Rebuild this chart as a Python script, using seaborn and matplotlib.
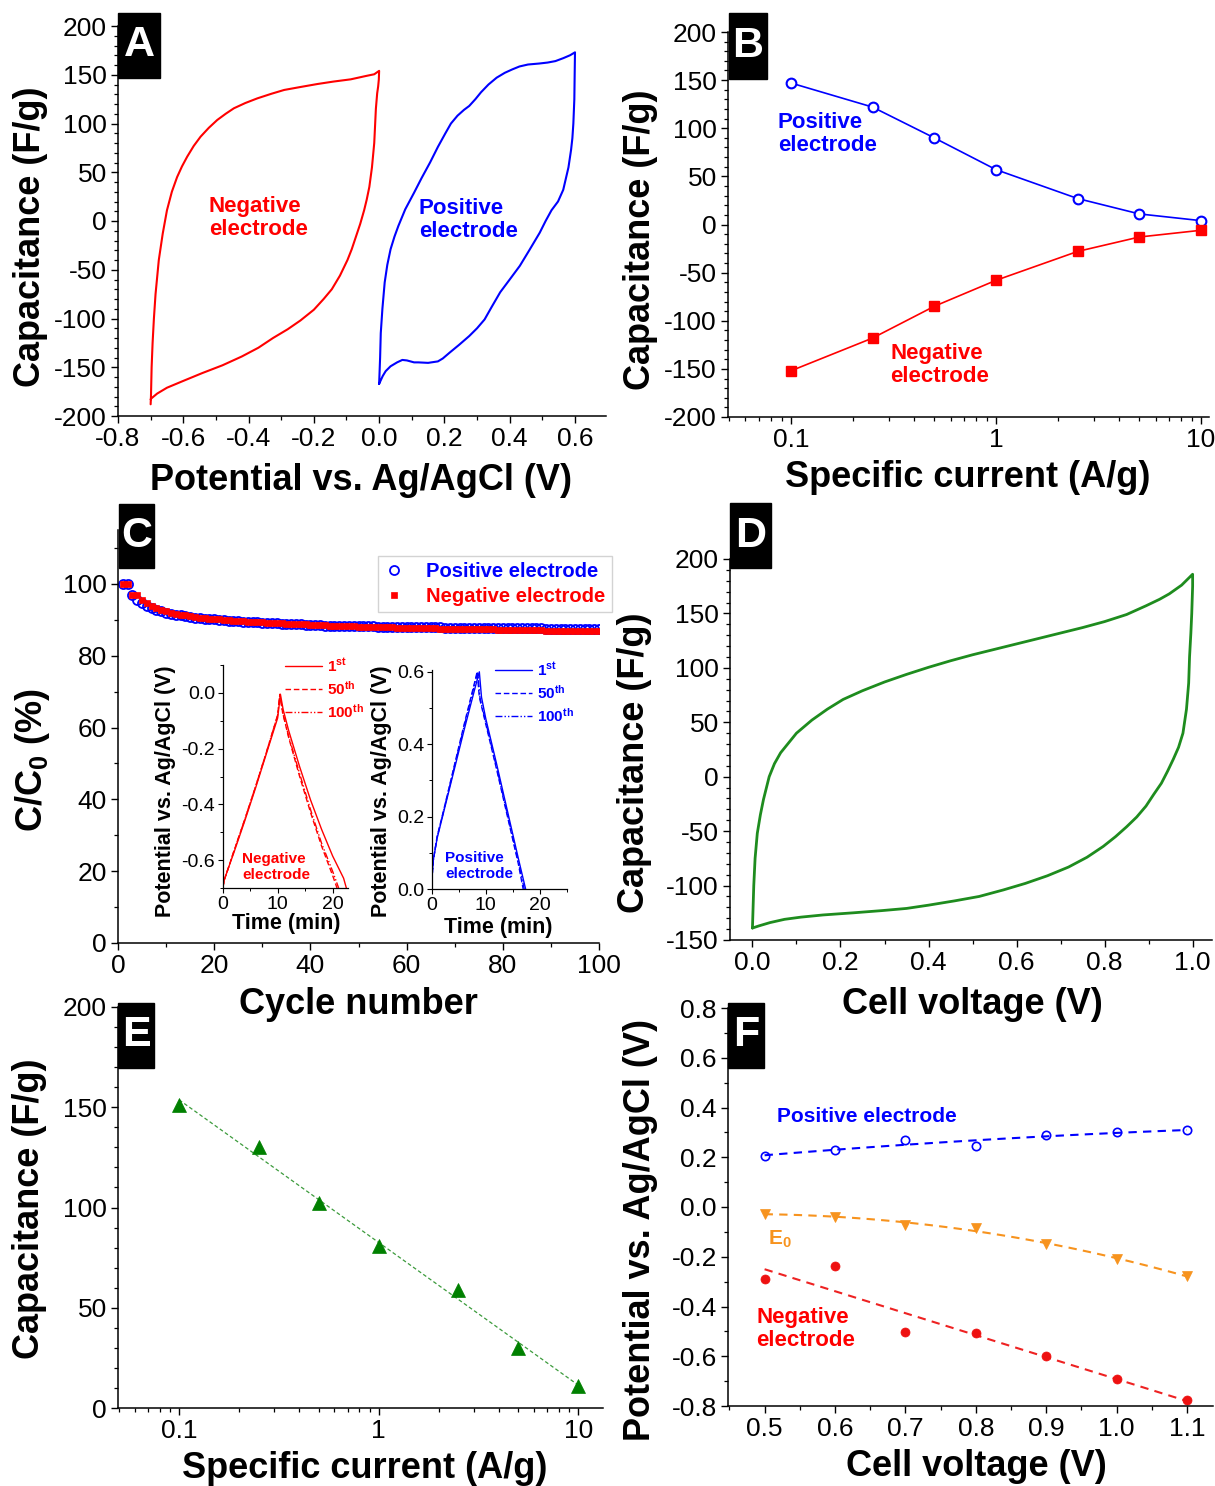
import numpy as np
import matplotlib
matplotlib.use("Agg")
import matplotlib.pyplot as plt
import seaborn as sns
from matplotlib.ticker import MultipleLocator, LogLocator, NullFormatter, FormatStrFormatter, FixedLocator
from matplotlib.patches import Rectangle

W, H = 1215, 1486

# ---------------- data ----------------
# A: CV of the single electrodes (potential V, capacitance F/g), loop order
cv_neg_v = [-0.700, -0.699, -0.697, -0.694, -0.690, -0.685, -0.675, -0.663, -0.650, -0.635, -0.619, -0.604,
            -0.588, -0.568, -0.547, -0.522, -0.496, -0.470, -0.445, -0.410, -0.373, -0.330, -0.291, -0.240,
            -0.189, -0.140, -0.087, -0.041, -0.015, 0.000,
            -0.001, -0.003, -0.006, -0.010, -0.015, -0.022, -0.030, -0.038, -0.046, -0.058, -0.071, -0.084,
            -0.097, -0.120, -0.145, -0.170, -0.200, -0.241, -0.280, -0.325, -0.370, -0.421, -0.480, -0.542,
            -0.600, -0.650, -0.680, -0.698, -0.700]
cv_neg_c = [-188, -180, -150, -125, -100, -75, -40, -13, 11, 30, 45, 56,
            66, 77, 86.5, 95.5, 103.6, 110, 115.6, 121, 125.8, 130.5, 134.4, 137.5,
            140.5, 143, 145.3, 148.7, 150.5, 154,
            145, 138, 131, 115, 80, 55, 35, 22, 11, -3, -16, -29,
            -40, -56, -70, -80, -91, -102, -111, -120, -130, -139, -148, -156,
            -164, -171, -177, -182, -183]
cv_pos_v = [0.000, 0.003, 0.005, 0.010, 0.017, 0.025, 0.035, 0.047, 0.059, 0.080, 0.107, 0.130, 0.156,
            0.180, 0.203, 0.220, 0.240, 0.260, 0.276, 0.295, 0.312, 0.335, 0.360, 0.385, 0.408, 0.430,
            0.456, 0.490, 0.516, 0.540, 0.564, 0.585, 0.600, 0.599, 0.598, 0.595, 0.592, 0.588, 0.580,
            0.564, 0.548, 0.528, 0.510, 0.492, 0.460, 0.431, 0.400, 0.371, 0.345, 0.323, 0.300, 0.276,
            0.245, 0.216, 0.195, 0.180, 0.150, 0.120, 0.107, 0.085, 0.071, 0.055, 0.035, 0.020, 0.011, 0.000]
cv_pos_c = [-167, -140, -115, -90, -63, -45, -29, -16, -5, 12, 29, 44, 60,
            76, 90, 100, 108, 114, 118, 125, 132, 140, 147, 152, 155.5, 158.5,
            160.5, 161.5, 162.5, 164, 167, 170, 173, 150, 125, 100, 85, 73, 55,
            32, 20, 11, 0, -12, -30, -46, -60, -73, -88, -101, -110, -118,
            -127, -135, -141, -144, -145.5, -145, -145, -143, -142.5, -145, -149, -154, -159, -167]

# B: rate capability of the electrodes
current = [0.1, 0.25, 0.5, 1, 2.5, 5, 10]
cap_pos = [147, 122, 90, 57, 27, 11, 4]
cap_neg = [-152, -118, -85, -58, -28, -13, -6]

# C: capacitance retention over 100 cycles (%)
cycles = np.arange(1, 101)
ret_pos = [100.0, 100.0, 96.8, 95.6, 94.6, 93.9, 93.3, 92.8, 92.4, 92.0,
           91.7, 91.4, 91.2, 91.0, 90.8, 90.6, 90.5, 90.3, 90.2, 90.1,
           90.0, 89.9, 89.8, 89.7, 89.6, 89.5, 89.4, 89.3, 89.3, 89.2,
           89.1, 89.0, 89.0, 88.9, 88.8, 88.8, 88.7, 88.7, 88.6, 88.6,
           88.5, 88.5, 88.4, 88.4, 88.3, 88.3, 88.3, 88.2, 88.2, 88.2,
           88.2, 88.2, 88.2, 88.1, 88.1, 88.1, 88.1, 88.0, 88.0, 88.0,
           88.0, 88.0, 87.9, 87.9, 87.9, 87.9, 87.9, 87.8, 87.8, 87.8,
           87.8, 87.8, 87.8, 87.7, 87.7, 87.7, 87.7, 87.7, 87.7, 87.7,
           87.6, 87.6, 87.6, 87.6, 87.6, 87.6, 87.6, 87.6, 87.5, 87.5,
           87.5, 87.5, 87.5, 87.5, 87.5, 87.5, 87.5, 87.5, 87.5, 87.5]
ret_neg = [100.0, 100.0, 97.0, 96.8, 95.5, 94.6, 93.9, 93.3, 92.8, 92.4,
           92.0, 91.7, 91.4, 91.2, 91.0, 90.8, 90.6, 90.5, 90.3, 90.2,
           90.1, 90.0, 89.9, 89.8, 89.7, 89.6, 89.5, 89.4, 89.4, 89.3,
           89.2, 89.1, 89.1, 89.0, 88.9, 88.9, 88.8, 88.7, 88.7, 88.6,
           88.6, 88.5, 88.5, 88.4, 88.4, 88.3, 88.3, 88.2, 88.2, 88.1,
           88.1, 88.1, 88.0, 88.0, 87.9, 87.9, 87.9, 87.8, 87.8, 87.8,
           87.7, 87.7, 87.7, 87.6, 87.6, 87.6, 87.5, 87.5, 87.5, 87.5,
           87.4, 87.4, 87.4, 87.4, 87.3, 87.3, 87.3, 87.3, 87.2, 87.2,
           87.2, 87.2, 87.2, 87.1, 87.1, 87.1, 87.1, 87.1, 87.0, 87.0,
           87.0, 87.0, 87.0, 87.0, 86.9, 86.9, 86.9, 86.9, 86.9, 86.9]

# C insets: galvanostatic charge/discharge (time min, potential V)
neg_t1 = [0, 0.3, 1, 2, 4, 6, 8, 10, 10.5, 11.0, 12, 14, 16, 18, 20, 22, 22.5]
neg_v1 = [-0.70, -0.67, -0.63, -0.575, -0.46, -0.34, -0.215, -0.09, -0.005, -0.06, -0.135, -0.265,
          -0.385, -0.49, -0.585, -0.665, -0.70]
neg_t50 = [0, 0.3, 1, 2, 4, 6, 8, 10, 10.4, 10.9, 12, 14, 16, 18, 20, 20.8]
neg_v50 = [-0.70, -0.67, -0.63, -0.57, -0.455, -0.335, -0.21, -0.08, -0.005, -0.07, -0.16, -0.30,
           -0.43, -0.55, -0.655, -0.70]
neg_t100 = [0, 0.3, 1, 2, 4, 6, 8, 10, 10.4, 10.9, 12, 14, 16, 18, 20, 21.1]
neg_v100 = [-0.70, -0.67, -0.63, -0.57, -0.455, -0.335, -0.21, -0.08, -0.005, -0.07, -0.155, -0.29,
            -0.42, -0.54, -0.64, -0.70]
pos_t1 = [0, 0.3, 1, 2, 4, 6, 8, 8.8, 9.2, 10, 12, 14, 16, 17.35]
pos_v1 = [0.02, 0.08, 0.14, 0.20, 0.32, 0.44, 0.555, 0.60, 0.53, 0.47, 0.345, 0.215, 0.085, 0.0]
pos_t50 = [0, 0.3, 1, 2, 4, 6, 8, 8.4, 8.8, 10, 12, 14, 16, 16.9]
pos_v50 = [0.02, 0.08, 0.145, 0.205, 0.33, 0.455, 0.575, 0.60, 0.53, 0.455, 0.33, 0.20, 0.07, 0.0]
pos_t100 = [0, 0.3, 1, 2, 4, 6, 8, 8.5, 8.9, 10, 12, 14, 16, 17.1]
pos_v100 = [0.02, 0.08, 0.143, 0.203, 0.326, 0.45, 0.57, 0.60, 0.53, 0.46, 0.335, 0.205, 0.075, 0.0]
cycle_labels = [r'1$^{\mathbf{st}}$', r'50$^{\mathbf{th}}$', r'100$^{\mathbf{th}}$']

# D: CV of the full cell
cell_v = [0.000, 0.003, 0.006, 0.011, 0.018, 0.025, 0.038, 0.050, 0.064, 0.080, 0.100, 0.135, 0.170,
          0.206, 0.250, 0.300, 0.350, 0.400, 0.450, 0.500, 0.550, 0.600, 0.650, 0.700, 0.750, 0.800,
          0.850, 0.894, 0.925, 0.947, 0.975, 1.000, 1.000, 0.998, 0.996, 0.993, 0.991, 0.986, 0.978,
          0.968, 0.956, 0.943, 0.929, 0.912, 0.894, 0.873, 0.850, 0.825, 0.797, 0.760, 0.718, 0.670,
          0.620, 0.570, 0.515, 0.460, 0.400, 0.350, 0.294, 0.230, 0.160, 0.110, 0.073, 0.040, 0.015, 0.000]
cell_c = [-139, -100, -75, -52, -35, -21, 0, 12, 22, 30, 40, 52, 62,
          71, 79, 87, 94, 100.5, 106.5, 112, 117, 122, 127, 132, 137, 142.5,
          149, 157, 163, 168, 176, 186, 175, 150, 132, 110, 86, 62, 40,
          27, 16, 5, -6, -16, -27, -37, -46, -55, -64, -74, -83, -91,
          -98, -104, -110, -114, -118, -121, -123, -125, -127, -129, -131, -134, -137, -139]

# E: cell capacitance vs specific current
cell_cap = [151, 130, 102, 81, 59, 30, 11]

# F: electrode potentials vs cell voltage
volt = [0.5, 0.6, 0.7, 0.8, 0.9, 1.0, 1.1]
pot_pos = [0.205, 0.230, 0.268, 0.246, 0.290, 0.300, 0.309]
pot_e0 = [-0.027, -0.040, -0.072, -0.083, -0.147, -0.211, -0.277]
pot_neg = [-0.288, -0.238, -0.504, -0.506, -0.600, -0.693, -0.777]

# ---------------- style ----------------
sns.set_theme(style="ticks")
plt.rcParams['font.family'] = ['Liberation Sans', 'DejaVu Sans']
plt.rcParams['mathtext.fontset'] = 'custom'
plt.rcParams['mathtext.rm'] = 'Liberation Sans'
plt.rcParams['mathtext.bf'] = 'Liberation Sans:bold'
plt.rcParams['mathtext.it'] = 'Liberation Sans:italic'
plt.rcParams['axes.unicode_minus'] = False
for k in ['text.color', 'axes.labelcolor', 'xtick.color', 'ytick.color', 'axes.edgecolor']:
    plt.rcParams[k] = 'black'

RED, BLUE, GREEN, ORANGE = '#ff0000', '#0000ff', '#1e8c1e', '#f7931e'

fig = plt.figure(figsize=(W / 100, H / 100), dpi=100)
fig.patch.set_facecolor('white')


def fx(px):
    return px / W


def fy(py):
    return 1 - py / H


def add_ax(left, top, right, bottom, small=False):
    ax = fig.add_axes([fx(left), fy(bottom), (right - left) / W, (bottom - top) / H])
    ax.set_facecolor('none')
    ax.spines[['top', 'right']].set_visible(False)
    for s in ['left', 'bottom']:
        ax.spines[s].set_linewidth(0.9 if small else 1.1)
    ax.tick_params(which='major', direction='out', length=3.5 if small else 5,
                   width=0.8 if small else 1.0, labelsize=14 if small else 19, pad=2 if small else 3)
    ax.tick_params(which='minor', direction='out', length=2 if small else 2.8, width=0.7 if small else 0.9)
    return ax


def labels(ax, xl, yl, xpos, ypos, size=26):
    ax.set_xlabel(xl, fontsize=size, fontweight='bold', va='center')
    ax.set_ylabel(yl, fontsize=size, fontweight='bold', va='center')
    ax.xaxis.set_label_coords(fx(xpos[0]), fy(xpos[1]), transform=fig.transFigure)
    ax.yaxis.set_label_coords(fx(ypos[0]), fy(ypos[1]), transform=fig.transFigure)


def tag(letter, left, top, right, bottom):
    fig.add_artist(Rectangle((fx(left), fy(bottom)), (right - left) / W, (bottom - top) / H,
                             transform=fig.transFigure, color='black', zorder=10))
    fig.text(fx((left + right) / 2), fy((top + bottom) / 2), letter, color='white', fontsize=31,
             fontweight='bold', ha='center', va='center', zorder=11)


def note(x, y, s, color, size=16):
    fig.text(fx(x), fy(y), s, color=color, fontsize=size, fontweight='bold', ha='left', va='center',
             linespacing=1.15, zorder=12)


def log_axis(ax, lo, hi):
    ax.set_xscale('log')
    ax.set_xlim(lo, hi)
    ax.xaxis.set_major_locator(FixedLocator([0.1, 1, 10]))
    ax.set_xticklabels(['0.1', '1', '10'])
    ax.xaxis.set_minor_locator(LogLocator(base=10, subs=np.arange(2, 10)))
    ax.xaxis.set_minor_formatter(NullFormatter())


def fixed_ticks(ax, axis, ticks, minor):
    ticks = [round(t, 2) for t in ticks]
    a = ax.xaxis if axis == 'x' else ax.yaxis
    a.set_major_locator(FixedLocator(ticks))
    a.set_major_formatter(FormatStrFormatter('%.1f'))
    a.set_minor_locator(MultipleLocator(minor))


# ---------------- A ----------------
axA = add_ax(118, 26, 606, 416)
sns.lineplot(x=cv_neg_v, y=cv_neg_c, sort=False, estimator=None, color=RED, lw=1.5, ax=axA)
sns.lineplot(x=cv_pos_v, y=cv_pos_c, sort=False, estimator=None, color=BLUE, lw=1.5, ax=axA)
axA.set_xlim(-0.8, 0.695)
axA.set_ylim(-200, 200)
fixed_ticks(axA, 'x', [-0.8, -0.6, -0.4, -0.2, 0.0, 0.2, 0.4, 0.6], 0.1)
axA.set_yticks(np.arange(-200, 201, 50))
axA.yaxis.set_minor_locator(MultipleLocator(10))
labels(axA, 'Potential vs. Ag/AgCl (V)', 'Capacitance (F/g)', (361, 480), (31, 237))
note(209, 218, 'Negative\nelectrode', RED)
note(419, 220, 'Positive\nelectrode', BLUE)
tag('A', 118, 13, 160, 78)

# ---------------- B ----------------
axB = add_ax(728, 32, 1209, 417)
sns.lineplot(x=current, y=cap_pos, color=BLUE, lw=1.2, marker='o', ms=7, mfc='white', mec=BLUE, mew=1.5, ax=axB)
sns.lineplot(x=current, y=cap_neg, color=RED, lw=1.2, marker='s', ms=7.5, mfc=RED, mec=RED, mew=1, ax=axB)
log_axis(axB, 0.0493, 10.94)
axB.set_ylim(-200, 200)
axB.set_yticks(np.arange(-200, 201, 50))
axB.yaxis.set_minor_locator(MultipleLocator(10))
labels(axB, 'Specific current (A/g)', 'Capacitance (F/g)', (968, 478), (641, 240))
note(778, 134, 'Positive\nelectrode', BLUE)
note(890, 365, 'Negative\nelectrode', RED)
tag('B', 729, 13, 767, 79)

# ---------------- C ----------------
axC = add_ax(118, 530, 599, 943)
sns.lineplot(x=cycles, y=ret_pos, estimator=None, ls='none', marker='o', ms=6.5, mfc='none', mec=BLUE,
             mew=1.3, label='Positive electrode', ax=axC)
sns.lineplot(x=cycles, y=ret_neg, estimator=None, ls='none', marker='s', ms=4.8, mfc=RED, mec=RED,
             mew=0.5, label='Negative electrode', ax=axC)
axC.set_xlim(0, 100)
axC.set_ylim(0, 115)
axC.set_xticks(np.arange(0, 101, 20))
axC.xaxis.set_minor_locator(MultipleLocator(10))
axC.set_yticks(np.arange(0, 101, 20))
axC.yaxis.set_minor_locator(MultipleLocator(10))
labels(axC, 'Cycle number', r'C/C$_{\mathbf{0}}$ (%)', (358, 1005), (32, 760))
leg = axC.legend(loc='upper left', bbox_to_anchor=((378 - 118) / 481, (943 - 556) / 413), borderaxespad=0,
                 prop={'weight': 'bold', 'size': 14.5}, frameon=True, fancybox=False,
                 edgecolor='#c8c8c8', handlelength=1.0, handletextpad=1.1, labelspacing=0.3,
                 borderpad=0.3)
leg.get_frame().set_linewidth(1.0)
for txt, col in zip(leg.get_texts(), [BLUE, RED]):
    txt.set_color(col)
tag('C', 119, 504, 154, 568)

# insets of C
styles = ['-', (0, (4, 2)), (0, (5, 1.5, 1, 1.5, 1, 1.5))]
axI1 = add_ax(222.7, 665, 348, 888, small=True)
for t, v, ls in zip([neg_t1, neg_t50, neg_t100], [neg_v1, neg_v50, neg_v100], styles):
    sns.lineplot(x=t, y=v, sort=False, estimator=None, color=RED, lw=1.0, ls=ls, ax=axI1)
axI1.set_xlim(0, 22.8)
axI1.set_ylim(-0.7, 0.1)
axI1.set_xticks([0, 10, 20])
axI1.xaxis.set_minor_locator(MultipleLocator(5))
fixed_ticks(axI1, 'y', [-0.6, -0.4, -0.2, 0.0], 0.1)
labels(axI1, 'Time (min)', 'Potential vs. Ag/AgCl (V)', (286, 923), (165, 791), size=15.5)
leg1 = axI1.legend(axI1.get_lines()[:3], cycle_labels, loc='upper left', bbox_to_anchor=(0.5, 1.035),
                   borderaxespad=0, borderpad=0, frameon=False, prop={'weight': 'bold', 'size': 11},
                   handlelength=2.4, handletextpad=0.3, labelspacing=0.32)
for txt in leg1.get_texts():
    txt.set_color(RED)
note(242, 867, 'Negative\nelectrode', RED, size=11)

axI2 = add_ax(431.7, 670, 567, 889, small=True)
for t, v, ls in zip([pos_t1, pos_t50, pos_t100], [pos_v1, pos_v50, pos_v100], styles):
    sns.lineplot(x=t, y=v, sort=False, estimator=None, color=BLUE, lw=1.0, ls=ls, ax=axI2)
axI2.set_xlim(0, 25)
axI2.set_ylim(0, 0.605)
axI2.set_xticks([0, 10, 20])
axI2.xaxis.set_minor_locator(MultipleLocator(5))
fixed_ticks(axI2, 'y', [0.0, 0.2, 0.4, 0.6], 0.1)
labels(axI2, 'Time (min)', 'Potential vs. Ag/AgCl (V)', (498, 927), (382, 791), size=15.5)
leg2 = axI2.legend(axI2.get_lines()[:3], cycle_labels, loc='upper left', bbox_to_anchor=(0.47, 1.04),
                   borderaxespad=0, borderpad=0, frameon=False, prop={'weight': 'bold', 'size': 11},
                   handlelength=2.4, handletextpad=0.3, labelspacing=0.32)
for txt in leg2.get_texts():
    txt.set_color(BLUE)
note(445, 866, 'Positive\nelectrode', BLUE, size=11)

# ---------------- D ----------------
axD = add_ax(730, 559, 1212, 940)
sns.lineplot(x=cell_v, y=cell_c, sort=False, estimator=None, color=GREEN, lw=2.0, ax=axD)
axD.set_xlim(-0.051, 1.044)
axD.set_ylim(-150, 200)
fixed_ticks(axD, 'x', [0.0, 0.2, 0.4, 0.6, 0.8, 1.0], 0.1)
axD.set_yticks(np.arange(-150, 201, 50))
axD.yaxis.set_minor_locator(MultipleLocator(10))
labels(axD, 'Cell voltage (V)', 'Capacitance (F/g)', (972, 1005), (634, 763))
tag('D', 730, 503, 771, 568)

# ---------------- E ----------------
axE = add_ax(118, 1007, 603, 1408)
fitE = np.polyfit(np.log10(current), cell_cap, 1)
xsE = np.array([0.1, 10])
sns.lineplot(x=xsE, y=np.polyval(fitE, np.log10(xsE)), color='#3c9b3c', lw=0.9, ls=(0, (3, 2)), ax=axE)
sns.lineplot(x=current, y=cell_cap, ls='none', marker='^', ms=10, mfc='#008000', mec='#008000', mew=0.5,
             estimator=None, ax=axE)
log_axis(axE, 0.0494, 13.3)
axE.set_ylim(0, 200)
axE.set_yticks(np.arange(0, 201, 50))
axE.yaxis.set_minor_locator(MultipleLocator(10))
labels(axE, 'Specific current (A/g)', 'Capacitance (F/g)', (365, 1469), (30, 1209))
tag('E', 118, 1003, 154, 1068)

# ---------------- F ----------------
axF = add_ax(728, 1008, 1213, 1406)
xsF = np.linspace(0.5, 1.1, 40)
for vals, deg, col in [(pot_pos, 2, BLUE), (pot_e0, 2, ORANGE), (pot_neg, 1, '#ee2222')]:
    fit = np.polyfit(volt, vals, deg)
    sns.lineplot(x=xsF, y=np.polyval(fit, xsF), color=col, lw=1.5, ls=(0, (4, 3)), ax=axF)
sns.lineplot(x=volt, y=pot_pos, ls='none', marker='o', ms=6, mfc='none', mec=BLUE, mew=1.2, estimator=None, ax=axF)
sns.lineplot(x=volt, y=pot_e0, ls='none', marker='v', ms=7.5, mfc=ORANGE, mec=ORANGE, mew=0.5, estimator=None, ax=axF)
sns.lineplot(x=volt, y=pot_neg, ls='none', marker='o', ms=6.5, mfc='#ee1111', mec='#ee1111', mew=0.5,
             estimator=None, ax=axF)
axF.set_xlim(0.448, 1.137)
axF.set_ylim(-0.8, 0.8)
fixed_ticks(axF, 'x', [0.5, 0.6, 0.7, 0.8, 0.9, 1.0, 1.1], 0.05)
fixed_ticks(axF, 'y', [-0.8, -0.6, -0.4, -0.2, 0.0, 0.2, 0.4, 0.6, 0.8], 0.1)
labels(axF, 'Cell voltage (V)', 'Potential vs. Ag/AgCl (V)', (976, 1467), (641, 1230))
note(777, 1117, 'Positive electrode', BLUE, size=15)
note(768, 1239, r'E$_{\mathbf{0}}$', ORANGE, size=15)
note(756, 1329, 'Negative\nelectrode', RED, size=16)
tag('F', 728, 1003, 764, 1068)

fig.savefig('out.png', dpi=100, facecolor='white')
